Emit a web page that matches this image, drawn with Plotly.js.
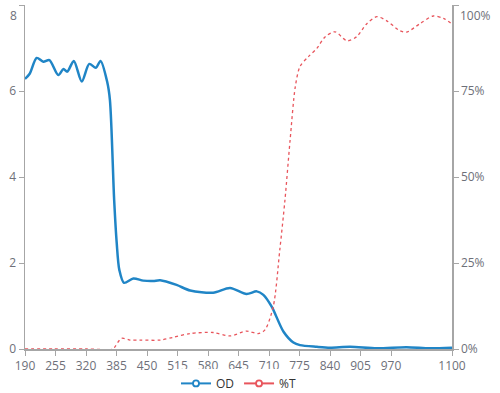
<!DOCTYPE html>
<html>
<head>
<meta charset="utf-8">
<script src="https://cdn.plot.ly/plotly-3.0.1.min.js"></script>
<style>html,body{margin:0;padding:0;background:#fff;}#chart{width:500px;height:393px;}</style>
</head>
<body>
<div id="chart"></div>
<script>
const odWavelength = [190, 200, 215, 229, 242, 261, 272, 280, 294, 311, 327, 341, 351, 365, 371, 380, 385.5, 391, 401, 421, 442, 463, 478, 513, 542, 591, 627, 662, 684, 698, 716, 741, 762, 776, 812, 840, 883, 940, 1003, 1053, 1100];
const odValues = [6.28, 6.4, 6.77, 6.68, 6.72, 6.37, 6.51, 6.45, 6.70, 6.22, 6.63, 6.54, 6.70, 6.22, 5.79, 3.47, 2.46, 1.84, 1.54, 1.64, 1.59, 1.58, 1.60, 1.49, 1.36, 1.31, 1.42, 1.28, 1.34, 1.26, 0.98, 0.40, 0.15, 0.09, 0.05, 0.03, 0.05, 0.015, 0.04, 0.015, 0.03];
const tWavelength = [190, 250, 320, 378, 382, 396, 414, 435, 478, 506, 542, 591, 627, 662, 687, 701, 719, 733, 744, 755, 766, 776, 794, 812, 830, 851, 876, 897, 918, 940, 961, 989, 1003, 1031, 1060, 1082, 1100];
const tValues = [0, 0, 0, 0, 0.007, 0.031, 0.026, 0.026, 0.026, 0.034, 0.045, 0.048, 0.038, 0.052, 0.045, 0.055, 0.123, 0.288, 0.433, 0.608, 0.762, 0.821, 0.85, 0.874, 0.908, 0.922, 0.896, 0.908, 0.945, 0.966, 0.954, 0.925, 0.921, 0.945, 0.968, 0.961, 0.945];
const xTicks = [190, 255, 320, 385, 450, 515, 580, 645, 710, 775, 840, 905, 970, 1100];
const odTicks = [0, 2, 4, 6, 8];
const tTicks = [0, 0.25, 0.5, 0.75, 1];

const blue = '#2085c6';
const red = '#e8555c';
const grey = '#6e7079';
const axisGrey = '#a6a6a6';

const traces = [
  {x: odWavelength, y: odValues, mode: 'lines', line: {color: blue, width: 2.5, shape: 'spline', smoothing: 0.8}, showlegend: false, yaxis: 'y', hoverinfo: 'skip'},
  {x: tWavelength, y: tValues, mode: 'lines', line: {color: red, width: 1.3, dash: '3px,3px', shape: 'spline', smoothing: 0.8}, showlegend: false, yaxis: 'y2', hoverinfo: 'skip'},
  {x: [null], y: [null], name: 'OD', mode: 'lines+markers', line: {color: blue, width: 2}, marker: {symbol: 'circle', size: 6, color: '#fff', line: {color: blue, width: 1.8}}},
  {x: [null], y: [null], name: '%T', mode: 'lines+markers', line: {color: red, width: 2}, marker: {symbol: 'circle', size: 6, color: '#fff', line: {color: red, width: 1.8}}, yaxis: 'y2'}
];

const layout = {
  width: 500, height: 393,
  margin: {l: 25, r: 48, t: 5, b: 44, autoexpand: false},
  paper_bgcolor: '#fff', plot_bgcolor: '#fff',
  font: {family: 'Open Sans, Noto Sans, sans-serif', size: 12, color: grey},
  xaxis: {range: [190, 1100], tickvals: xTicks, ticktext: xTicks.map(String), showgrid: false, zeroline: false, showline: true, linecolor: axisGrey, linewidth: 1.5, ticks: 'outside', ticklen: 5, tickcolor: axisGrey, tickfont: {size: 12, color: grey}, automargin: false},
  yaxis: {range: [0, 8], tickvals: odTicks, ticktext: odTicks.map(v => v === 8 ? '' : String(v)), showgrid: false, zeroline: false, showline: true, linecolor: axisGrey, linewidth: 1.5, ticks: 'outside', ticklen: 5, tickcolor: axisGrey, tickfont: {size: 12, color: grey}, automargin: false},
  yaxis2: {range: [0, 1], overlaying: 'y', side: 'right', tickvals: tTicks, ticktext: tTicks.map(v => v === 1 ? '' : Math.round(v * 100) + '%'), showgrid: false, zeroline: false, showline: true, linecolor: axisGrey, linewidth: 1.5, ticks: 'outside', ticklen: 5, tickcolor: axisGrey, tickfont: {size: 12, color: grey}, automargin: false},
  showlegend: true,
  legend: {orientation: 'h', x: 0.5, xanchor: 'center', y: -0.1, yanchor: 'middle', font: {size: 12, color: '#333'}, itemwidth: 30},
  annotations: [
    {text: String(odTicks[4]), xref: 'paper', yref: 'y', x: 0, y: 8, xanchor: 'right', yanchor: 'middle', xshift: -6, yshift: -10, showarrow: false, font: {size: 12, color: grey}},
    {text: Math.round(tTicks[4] * 100) + '%', xref: 'paper', yref: 'y2', x: 1, y: 1, xanchor: 'left', yanchor: 'middle', xshift: 6, yshift: -10, showarrow: false, font: {size: 12, color: grey}}
  ]
};

Plotly.newPlot('chart', traces, layout, {displayModeBar: false, staticPlot: true});
</script>
</body>
</html>
